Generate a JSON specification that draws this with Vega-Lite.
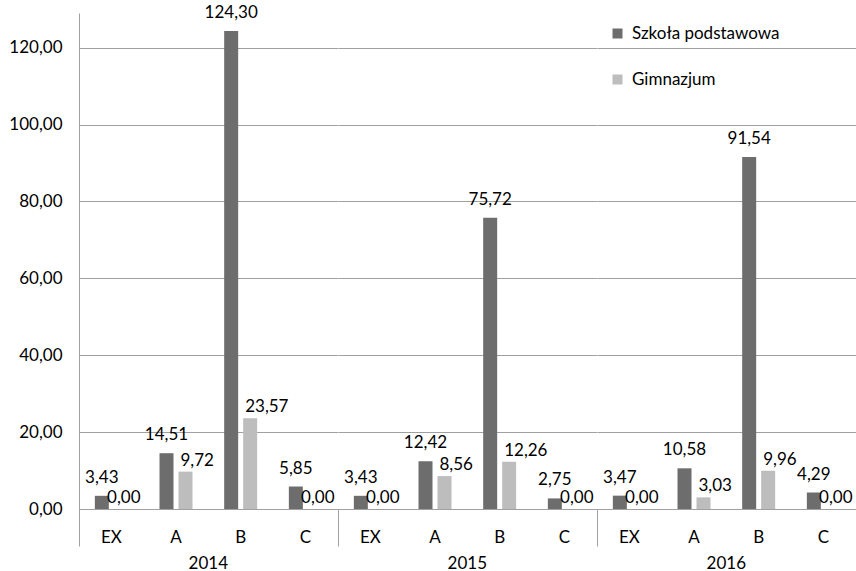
{
  "$schema": "https://vega.github.io/schema/vega-lite/v6.json",
  "padding": {"left": 8, "top": 4, "right": 0, "bottom": 0},
  "background": "white",
  "config": {
    "font": "Lato",
    "view": {"stroke": null},
    "locale": {"number": {"decimal": ",", "thousands": " ", "grouping": [3], "currency": ["", ""]}}
  },
  "data": {
    "values": [
      {"year": "2014", "category": "EX", "series": "Szkoła podstawowa", "value": 3.43},
      {"year": "2014", "category": "EX", "series": "Gimnazjum", "value": 0.0},
      {"year": "2014", "category": "A", "series": "Szkoła podstawowa", "value": 14.51},
      {"year": "2014", "category": "A", "series": "Gimnazjum", "value": 9.72},
      {"year": "2014", "category": "B", "series": "Szkoła podstawowa", "value": 124.30},
      {"year": "2014", "category": "B", "series": "Gimnazjum", "value": 23.57},
      {"year": "2014", "category": "C", "series": "Szkoła podstawowa", "value": 5.85},
      {"year": "2014", "category": "C", "series": "Gimnazjum", "value": 0.0},
      {"year": "2015", "category": "EX", "series": "Szkoła podstawowa", "value": 3.43},
      {"year": "2015", "category": "EX", "series": "Gimnazjum", "value": 0.0},
      {"year": "2015", "category": "A", "series": "Szkoła podstawowa", "value": 12.42},
      {"year": "2015", "category": "A", "series": "Gimnazjum", "value": 8.56},
      {"year": "2015", "category": "B", "series": "Szkoła podstawowa", "value": 75.72},
      {"year": "2015", "category": "B", "series": "Gimnazjum", "value": 12.26},
      {"year": "2015", "category": "C", "series": "Szkoła podstawowa", "value": 2.75},
      {"year": "2015", "category": "C", "series": "Gimnazjum", "value": 0.0},
      {"year": "2016", "category": "EX", "series": "Szkoła podstawowa", "value": 3.47},
      {"year": "2016", "category": "EX", "series": "Gimnazjum", "value": 0.0},
      {"year": "2016", "category": "A", "series": "Szkoła podstawowa", "value": 10.58},
      {"year": "2016", "category": "A", "series": "Gimnazjum", "value": 3.03},
      {"year": "2016", "category": "B", "series": "Szkoła podstawowa", "value": 91.54},
      {"year": "2016", "category": "B", "series": "Gimnazjum", "value": 9.96},
      {"year": "2016", "category": "C", "series": "Szkoła podstawowa", "value": 4.29},
      {"year": "2016", "category": "C", "series": "Gimnazjum", "value": 0.0}
    ]
  },
  "spacing": 0,
  "facet": {
    "column": {
      "field": "year",
      "type": "ordinal",
      "header": {"orient": "bottom", "title": null, "labelFontSize": 17, "labelColor": "#000000", "labelPadding": 9, "labelFont": "Lato"}
    }
  },
  "spec": {
    "width": 258.67,
    "height": 496,
    "encoding": {
      "x": {
        "field": "category",
        "type": "nominal",
        "sort": ["EX", "A", "B", "C"],
        "scale": {"paddingInner": 0, "paddingOuter": 0},
        "axis": {
          "title": null,
          "labelAngle": 0,
          "bandPosition": 0,
          "tickSize": 37,
          "tickColor": "#a0a0a0",
          "tickOpacity": {"condition": {"test": "datum.value === 'EX'", "value": 1}, "value": 0},
          "domainColor": "#a0a0a0",
          "labelPadding": -17,
          "labelFontSize": 17,
          "labelColor": "#000000",
          "grid": false
        }
      },
      "xOffset": {
        "field": "series",
        "type": "nominal",
        "sort": ["Szkoła podstawowa", "Gimnazjum"],
        "scale": {"paddingInner": 0.263, "paddingOuter": 0.834}
      },
      "y": {
        "field": "value",
        "type": "quantitative",
        "scale": {"domain": [0, 129], "nice": false},
        "axis": {
          "title": null,
          "values": [0, 20, 40, 60, 80, 100, 120],
          "format": ",.2f",
          "ticks": false,
          "labelPadding": 17,
          "labelFontSize": 17,
          "labelColor": "#000000",
          "domainColor": "#a0a0a0",
          "gridColor": "#a0a0a0"
        }
      }
    },
    "layer": [
      {
        "mark": {"type": "bar"},
        "encoding": {
          "color": {
            "field": "series",
            "type": "nominal",
            "scale": {"domain": ["Szkoła podstawowa", "Gimnazjum"], "range": ["#6d6d6d", "#bdbdbd"]},
            "legend": {
              "title": null,
              "orient": "none",
              "legendX": 530,
              "legendY": 12,
              "symbolType": "square",
              "symbolSize": 100,
              "symbolStrokeWidth": 0,
              "labelFontSize": 17,
              "labelColor": "#000000",
              "labelOffset": 6,
              "rowPadding": 28
            }
          }
        }
      },
      {
        "transform": [{"filter": "datum.series === 'Szkoła podstawowa'"}],
        "mark": {"type": "text", "baseline": "bottom", "dy": -9, "fontSize": 17, "color": "#000000"},
        "encoding": {
          "text": {"field": "value", "type": "quantitative", "format": ",.2f"}
        }
      },
      {
        "transform": [{"filter": "datum.series === 'Gimnazjum' && datum.value === 0"}],
        "mark": {"type": "text", "baseline": "bottom", "dy": -2, "dx": 3, "fontSize": 17, "color": "#000000"},
        "encoding": {
          "text": {"field": "value", "type": "quantitative", "format": ",.2f"}
        }
      },
      {
        "transform": [{"filter": "datum.series === 'Gimnazjum' && datum.value > 0"}],
        "mark": {"type": "text", "baseline": "bottom", "align": "left", "dy": -2, "dx": -5, "fontSize": 17, "color": "#000000"},
        "encoding": {
          "text": {"field": "value", "type": "quantitative", "format": ",.2f"}
        }
      }
    ]
  }
}
